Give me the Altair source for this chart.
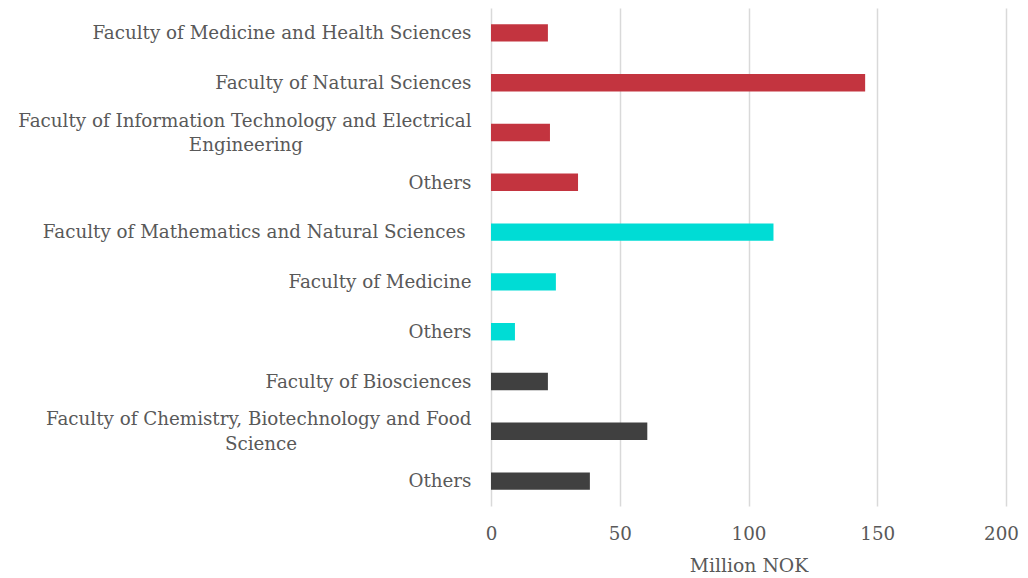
import json
import altair as alt
import pandas as pd

faculties = [
    "Faculty of Medicine and Health Sciences",
    "Faculty of Natural Sciences",
    "Faculty of Information Technology and Electrical|Engineering",
    "Others",
    "Faculty of Mathematics and Natural Sciences ",
    "Faculty of Medicine",
    "Others",
    "Faculty of Biosciences",
    "Faculty of Chemistry, Biotechnology and Food|Science",
    "Others",
]
values = [22.1, 145.3, 22.9, 33.8, 109.7, 25.2, 9.3, 22.1, 60.7, 38.4]
groups = ["A", "A", "A", "A", "B", "B", "B", "C", "C", "C"]
group_names = ["A", "B", "C"]
group_colors = ["#C3343F", "#00DCD5", "#404040"]
x_ticks = [0, 50, 100, 150, 200]

# trailing no-break spaces that centre a wrapped second line under the first
wrap_pad = [0, 0, 29, 0, 0, 0, 0, 0, 30, 0]

NBSP = "\u00a0"
ZWSP = "\u200b"  # keeps Vega's trim() from removing the padding
display = []
for name, p in zip(faculties, wrap_pad):
    parts = name.split("|")
    if name.endswith(" "):
        parts[-1] = parts[-1].rstrip() + NBSP + ZWSP
    if len(parts) > 1:
        parts[1] = parts[1] + NBSP * p + ZWSP
    display.append(parts)

multi_rows = [i for i, d in enumerate(display) if len(d) > 1]

df = pd.DataFrame({
    "row": list(range(len(faculties))),
    "value": values,
    "group": groups,
})

FONT = "DejaVu Serif"
FS = 18.3
LH = 24.5
label_expr = f"{json.dumps(display, ensure_ascii=False)}[datum.value]"
multi_test = " || ".join(f"datum.value == {i}" for i in multi_rows)

chart = alt.Chart(df).mark_bar().encode(
    y=alt.Y(
        "row:O",
        sort="ascending",
        scale=alt.Scale(paddingInner=0.65, paddingOuter=0.325),
        axis=alt.Axis(
            title=None,
            labelExpr=label_expr,
            ticks=False,
            domain=False,
            grid=False,
            labelPadding=20,
            labelFont=FONT,
            labelFontSize=FS,
            labelColor="#595959",
            labelLimit=600,
            labelLineHeight=LH,
            labelOffset={"condition": {"test": multi_test, "value": -11}, "value": 1.2},
            minExtent=483,
            maxExtent=483,
        ),
    ),
    x=alt.X(
        "value:Q",
        scale=alt.Scale(domain=[0, 200], nice=False),
        axis=alt.Axis(
            title="Million NOK",
            values=x_ticks,
            grid=True,
            gridColor="#D9D9D9",
            gridWidth=1.5,
            ticks=False,
            domain=False,
            labelFlush=False,
            labelOffset={"condition": {"test": "datum.value == 200", "value": -5}, "value": 0},
            labelPadding=19,
            labelFont=FONT,
            labelFontSize=FS,
            labelColor="#595959",
            titleFont=FONT,
            titleFontSize=18.8,
            titleFontWeight="normal",
            titleColor="#595959",
            titlePadding=14,
        ),
    ),
    color=alt.Color(
        "group:N",
        scale=alt.Scale(domain=group_names, range=group_colors),
        legend=None,
    ),
).properties(
    width=515,
    height=498,
    padding={"left": 0, "top": 0, "right": 0, "bottom": 0},
).configure_view(stroke=None)

chart.save("out.html", embed_options={"renderer": "svg", "actions": False})
